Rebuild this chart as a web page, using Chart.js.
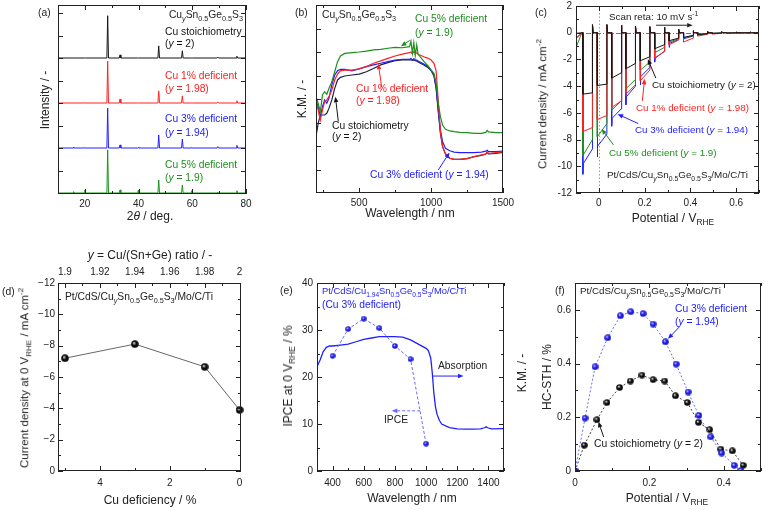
<!DOCTYPE html>
<html>
<head>
<meta charset="utf-8">
<script src="https://cdn.jsdelivr.net/npm/chart.js@4.4.1/dist/chart.umd.min.js"></script>
<style>
  body { margin: 0; background: #fff; }
  #fig { position: relative; width: 766px; height: 510px; overflow: hidden;
         font-family: "Liberation Sans", Arial, sans-serif; color: #222; }
  #fig canvas { position: absolute; }
  .t { position: absolute; white-space: nowrap; font-size: 10.3px; line-height: 1; }
  .sm { font-size: 9.8px; }
  .xs { font-size: 9.4px; }
  .l { transform: translateY(-50%); }
  .r { transform: translate(-100%, -50%); }
  .c { transform: translate(-50%, -50%); }
  .v { transform: translate(-50%, -50%) rotate(-90deg); }
  .ax { font-size: 12px; }
  .axs { font-size: 11.5px; }
  sub, sup { font-size: 70%; line-height: 0; }
</style>
</head>
<body>
<div id="fig"></div>
<script>
const BLACK = '#151515', RED = '#ff2020', BLUE = '#2020ff', GREEN = '#1d8f1d';

// (a) XRD patterns, intensity relative to one band
const xrdTheta = [10, 15.6, 15.8, 16.0, 19.8, 20.0, 20.2, 28.2, 28.5, 28.8, 32.8, 33.1, 33.4, 39.7, 39.9, 40.1,
                  47.2, 47.5, 47.8, 56.0, 56.3, 56.6, 59.6, 59.8, 60.0, 69.2, 69.5, 69.8, 76.3, 76.6, 76.9, 80];
const xrdBlack = [0, 0, 0, 0, 0, 0, 0, 0, 0.94, 0, 0, 0.07, 0, 0, 0, 0, 0, 0.27, 0, 0, 0.16, 0, 0, 0, 0, 0, 0.02, 0, 0, 0.04, 0, 0];
const xrdRed   = [0, 0, 0, 0, 0, 0.01, 0, 0, 0.93, 0, 0, 0.09, 0, 0, 0, 0, 0, 0.27, 0, 0, 0.16, 0, 0, 0, 0, 0, 0.02, 0, 0, 0.05, 0, 0];
const xrdBlue  = [0, 0, 0.02, 0, 0, 0.01, 0, 0, 0.89, 0, 0, 0.07, 0, 0, 0.01, 0, 0, 0.29, 0, 0, 0.20, 0, 0, 0.01, 0, 0, 0.03, 0, 0, 0.06, 0, 0];
const xrdGreen = [0, 0, 0.03, 0, 0, 0.06, 0, 0, 0.96, 0, 0, 0.07, 0, 0, 0.06, 0, 0, 0.29, 0, 0, 0.18, 0, 0, 0.05, 0, 0, 0.02, 0, 0, 0.05, 0, 0];
const xrdOffset = [3, 2, 1, 0];

// (b) K.M. spectra
const kmWl = [200, 215, 230, 245, 260, 275, 290, 310, 330, 350, 370, 400, 450, 500, 550, 600, 650, 700, 750, 800,
              850, 860, 870, 880, 890, 900, 910, 950, 980, 1000, 1020, 1035, 1050, 1065, 1080, 1100, 1130, 1160,
              1200, 1250, 1300, 1350, 1380, 1390, 1400, 1450, 1500];
const kmGreen = [4.1, 3.82, 3.46, 4.17, 4.31, 4.2, 4.45, 4.74, 5.16, 5.59, 5.83, 5.94, 5.97, 6.0, 6.04, 6.09, 6.11, 6.16, 6.2, 6.18,
                 6.23, 6.45, 5.95, 6.4, 5.85, 6.3, 5.9, 5.6, 5.4, 5.23, 5.09, 4.67, 3.82, 3.25, 2.89, 2.71, 2.64, 2.61,
                 2.58, 2.57, 2.54, 2.54, 2.58, 2.66, 2.6, 2.57, 2.57];
const kmRed = [3.96, 3.53, 3.1, 3.53, 3.89, 3.96, 4.1, 4.38, 4.81, 5.06, 5.2, 5.23, 5.23, 5.28, 5.38, 5.52, 5.62, 5.73, 5.83, 5.91,
               5.97, 6.0, 5.92, 6.02, 5.95, 5.96, 5.9, 5.8, 5.73, 5.66, 5.52, 5.2, 3.9, 2.6, 1.97, 1.66, 1.48, 1.43,
               1.43, 1.46, 1.55, 1.62, 1.66, 1.76, 1.68, 1.72, 1.76];
const kmBlue = [3.96, 3.67, 3.25, 3.67, 3.96, 3.82, 4.03, 4.6, 5.02, 5.2, 5.26, 5.26, 5.2, 5.28, 5.38, 5.45, 5.52, 5.59, 5.66, 5.69,
                5.69, 5.72, 5.66, 5.71, 5.67, 5.66, 5.62, 5.49, 5.38, 5.23, 5.02, 4.52, 3.53, 2.68, 2.18, 1.9, 1.8, 1.74,
                1.72, 1.72, 1.72, 1.74, 1.78, 1.82, 1.76, 1.76, 1.78];
const kmBlack = [2.4, 2.96, 3.32, 3.32, 3.32, 3.39, 3.6, 3.96, 4.45, 4.81, 4.92, 4.98, 5.02, 5.06, 5.16, 5.3, 5.45, 5.55, 5.63, 5.66,
                 5.66, 5.67, 5.64, 5.66, 5.63, 5.62, 5.57, 5.45, 5.33, 5.21, 4.98, 4.45, 3.46, 2.54, 1.97, 1.66, 1.48, 1.43,
                 1.43, 1.46, 1.55, 1.6, 1.66, 1.72, 1.66, 1.69, 1.73];

// (c) chopped-light current density, one entry per light pulse
const chopOn = [-0.07, -0.007, 0.056, 0.118, 0.181, 0.244, 0.307, 0.370, 0.432, 0.495, 0.558, 0.621, 0.684];
const chopLen = 0.042;
const offSpike = [0.6, 0.6, 0.55, 0.5, 0.45, 0.4, 0.25, 0.15, 0.1, 0.08, 0.06, 0.05, 0.03];
const jBlackOn  = [-4.6, -3.95, -3.4, -2.7, -2.1, -1.2, -0.6, -0.35, -0.15, -0.05, -0.02, -0.01, 0];
const jBlackOff = [-4.5, -3.85, -3.0, -2.3, -1.8, -0.9, -0.4, -0.2, -0.08, -0.02, -0.01, 0, 0];
const jRedOn    = [-7.4, -6.5, -5.6, -4.6, -3.6, -1.9, -0.9, -0.7, -0.25, -0.1, -0.05, -0.02, 0];
const jRedOff   = [-7.1, -6.2, -5.1, -3.9, -2.8, -1.4, -0.55, -0.4, -0.12, -0.05, -0.02, 0, 0];
const jBlueSpike = [-10.6, -9.3, -7.0, -5.4, -3.9, -2.2, -1.1, -0.5, -0.15, -0.08, -0.04, -0.02, 0];
const jBlueOn   = [-9.8, -8.5, -6.4, -4.8, -3.3, -1.9, -0.8, -0.45, -0.12, -0.05, -0.03, -0.01, 0];
const jBlueOff  = [-8.7, -7.6, -5.7, -4.0, -2.6, -1.4, -0.5, -0.25, -0.05, -0.02, 0, 0, 0];
const jGreenOn  = [-9.2, -7.8, -5.8, -4.2, -2.8, -1.5, -0.7, -0.4, -0.15, -0.05, -0.02, -0.01, 0];
const jGreenOff = [-8.0, -6.8, -5.1, -3.5, -2.2, -1.1, -0.45, -0.2, -0.08, -0.02, 0, 0, 0];
const jDarkStart = [-0.05, -0.45, -0.4, -1.1]; // black, red, blue, green at -0.1 V

// (d) current density at 0 V vs Cu deficiency
const cuDeficiency = [5, 3, 1, 0];
const j0V = [-7.2, -8.1, -6.65, -3.9];
const ratioTicks = [1.9, 1.92, 1.94, 1.96, 1.98, 2];

// (e) IPCE and absorption
const ipceWl = [400, 500, 600, 700, 800, 900, 1000];
const ipce = [24.5, 30.2, 32.4, 30.4, 26.6, 23.8, 5.8];
const absWl = [300, 320, 340, 360, 380, 400, 450, 500, 550, 600, 650, 700, 750, 800, 850, 900, 950, 1000, 1015, 1030,
               1040, 1050, 1060, 1070, 1085, 1100, 1150, 1200, 1250, 1300, 1350, 1375, 1385, 1395, 1420, 1500];
const absorption = [22.2, 23.6, 25.4, 26.3, 26.6, 26.6, 26.8, 27.0, 27.5, 28.0, 28.3, 28.6, 28.6, 28.6, 28.5, 27.9, 27.0, 26.1, 25.6, 24.0,
                    20.8, 16.5, 13.7, 12.1, 10.8, 10.0, 9.25, 8.97, 8.9, 8.9, 8.97, 9.2, 9.4, 9.2, 8.97, 9.0];

// (f) HC-STH
const sthVBlue = [0, 0.027, 0.054, 0.088, 0.122, 0.150, 0.183, 0.210, 0.243, 0.272, 0.304, 0.333, 0.365, 0.394, 0.428, 0.446];
const sthBlue  = [0, 0.197, 0.388, 0.496, 0.578, 0.593, 0.586, 0.547, 0.481, 0.398, 0.294, 0.207, 0.127, 0.067, 0.021, 0.002];
const sthVBlack = [0, 0.025, 0.059, 0.086, 0.120, 0.149, 0.180, 0.210, 0.241, 0.270, 0.302, 0.332, 0.362, 0.392, 0.423, 0.452];
const sthBlack  = [0, 0.096, 0.191, 0.255, 0.311, 0.335, 0.357, 0.340, 0.335, 0.280, 0.255, 0.181, 0.154, 0.081, 0.075, 0.021];

Chart.defaults.font.family = '"Liberation Sans", Arial, sans-serif';
Chart.defaults.font.size = 10;
Chart.defaults.color = '#222';
Chart.defaults.plugins.legend.display = false;
Chart.defaults.plugins.tooltip.enabled = false;
Chart.defaults.elements.point.radius = 0;
Chart.defaults.elements.line.borderWidth = 1;

const isIn = (v, arr) => arr.some(a => Math.abs(a - v) < 1e-9);

// frame with inward ticks on all four sides
const framePlugin = {
  id: 'frame',
  afterDatasetsDraw(chart) {
    const {ctx, chartArea: a} = chart;
    const scales = Object.values(chart.scales);
    const hasTop = scales.some(s => s.position === 'top');
    ctx.save();
    ctx.strokeStyle = '#222';
    ctx.lineWidth = 1;
    ctx.strokeRect(a.left + 0.5, a.top + 0.5, a.width - 1, a.height - 1);
    ctx.beginPath();
    const seg = (x1, y1, x2, y2) => { ctx.moveTo(x1, y1); ctx.lineTo(x2, y2); };
    scales.forEach(s => {
      s.ticks.forEach(t => {
        const len = t.label ? 5 : 3;
        const p = Math.round(s.getPixelForValue(t.value)) + 0.5;
        if (s.isHorizontal()) {
          if (s.position === 'bottom') {
            seg(p, a.bottom, p, a.bottom - len);
            if (!hasTop) seg(p, a.top, p, a.top + len);
          } else {
            seg(p, a.top, p, a.top + len);
          }
        } else {
          seg(a.left, p, a.left + len, p);
          seg(a.right, p, a.right - len, p);
        }
      });
    });
    ctx.stroke();
    ctx.restore();
  }
};

// annotation arrows given in data units
const arrowPlugin = {
  id: 'arrows',
  afterDatasetsDraw(chart, args, opts) {
    const list = (opts && opts.list) || [];
    const {ctx} = chart;
    const xs = chart.scales.x, ys = chart.scales.y;
    list.forEach(ar => {
      const x1 = xs.getPixelForValue(ar.from[0]), y1 = ys.getPixelForValue(ar.from[1]);
      const x2 = xs.getPixelForValue(ar.to[0]), y2 = ys.getPixelForValue(ar.to[1]);
      const ang = Math.atan2(y2 - y1, x2 - x1), h = 5.5, w = 2.3;
      const cos = Math.cos(ang), sin = Math.sin(ang);
      ctx.save();
      ctx.strokeStyle = ar.color;
      ctx.fillStyle = ar.color;
      ctx.lineWidth = 1;
      ctx.setLineDash(ar.dash || []);
      ctx.beginPath();
      ctx.moveTo(x1, y1);
      ctx.lineTo(x2 - h * 0.7 * cos, y2 - h * 0.7 * sin);
      ctx.stroke();
      ctx.setLineDash([]);
      ctx.beginPath();
      ctx.moveTo(x2, y2);
      ctx.lineTo(x2 - h * cos + w * sin, y2 - h * sin - w * cos);
      ctx.lineTo(x2 - h * cos - w * sin, y2 - h * sin + w * cos);
      ctx.closePath();
      ctx.fill();
      ctx.restore();
    });
  }
};

// reference lines for (c)
const refPlugin = {
  id: 'refLines',
  beforeDatasetsDraw(chart, args, opts) {
    if (!opts || !opts.on) return;
    const {ctx, chartArea: a} = chart;
    const y0 = Math.round(chart.scales.y.getPixelForValue(0)) + 0.5;
    const x0 = Math.round(chart.scales.x.getPixelForValue(0)) + 0.5;
    ctx.save();
    ctx.lineWidth = 1;
    ctx.strokeStyle = '#777';
    ctx.setLineDash([5, 2, 1, 2]);
    ctx.beginPath(); ctx.moveTo(a.left, y0); ctx.lineTo(a.right, y0); ctx.stroke();
    ctx.strokeStyle = '#9a9ab8';
    ctx.setLineDash([1.5, 2]);
    ctx.beginPath(); ctx.moveTo(x0, a.top); ctx.lineTo(x0, a.bottom); ctx.stroke();
    ctx.restore();
  }
};

Chart.register(framePlugin, arrowPlugin, refPlugin);

function scaleFrom(spec, size) {
  const all = spec.major.concat(spec.minor || []).sort((p, q) => p - q);
  return {
    type: 'linear', position: spec.pos, min: spec.min, max: spec.max, reverse: !!spec.reverse,
    grid: { display: false, drawTicks: false },
    border: { display: false },
    ticks: {
      display: !spec.hide, padding: spec.pad || 4, autoSkip: false, maxRotation: 0,
      font: { size: 10 }, color: '#222',
      callback: v => isIn(v, spec.major) ? (spec.fmt ? spec.fmt(v) : String(+v.toFixed(4))) : ''
    },
    afterBuildTicks: s => { s.ticks = all.map(v => ({ value: v })); },
    afterFit: s => {
      if (s.isHorizontal()) s.height = size; else s.width = size;
      s.paddingLeft = s.paddingRight = s.paddingTop = s.paddingBottom = 0;
    }
  };
}

const fig = document.getElementById('fig');

function makeChart(box, area, axes, datasets, plugins) {
  const cv = document.createElement('canvas');
  cv.width = box.w; cv.height = box.h;
  cv.style.left = box.x + 'px'; cv.style.top = box.y + 'px';
  fig.appendChild(cv);
  const hasTop = !!axes.x2;
  const scales = {
    x: scaleFrom(axes.x, box.y + box.h - area.B),
    y: scaleFrom(axes.y, area.L - box.x)
  };
  if (hasTop) scales.x2 = scaleFrom(axes.x2, area.T - box.y);
  return new Chart(cv, {
    type: 'line',
    data: { datasets },
    options: {
      responsive: false, animation: false, devicePixelRatio: 1,
      layout: { padding: { left: 0, bottom: 0, top: hasTop ? 0 : area.T - box.y, right: box.x + box.w - area.R } },
      scales,
      plugins: Object.assign({ legend: { display: false }, tooltip: { enabled: false } }, plugins || {})
    }
  });
}

function sphere(d, body, hi) {
  const c = document.createElement('canvas');
  c.width = c.height = d;
  const g = c.getContext('2d');
  const r = d / 2;
  const grad = g.createRadialGradient(r * 0.72, r * 0.68, 0, r, r, r);
  grad.addColorStop(0, hi);
  grad.addColorStop(0.5, body);
  grad.addColorStop(1, body);
  g.fillStyle = grad;
  g.beginPath(); g.arc(r, r, r - 0.2, 0, Math.PI * 2); g.fill();
  return c;
}

const pts = (xs, ys) => xs.map((x, i) => ({ x, y: ys[i] }));

// ---- (a) ----
const xrdSeries = [[xrdBlack, BLACK], [xrdRed, RED], [xrdBlue, BLUE], [xrdGreen, GREEN]];
makeChart({ x: 0, y: 0, w: 258, h: 232 }, { L: 58, T: 5, R: 246, B: 194 },
  {
    x: { pos: 'bottom', min: 10, max: 80, major: [20, 40, 60, 80], minor: [30, 50, 70] },
    y: { pos: 'left', min: -0.022, max: 4.178, major: [0.5, 1, 1.5, 2, 2.5, 3, 3.5, 4], hide: true }
  },
  xrdSeries.map(([vals, col], k) => ({
    data: xrdTheta.map((t, i) => ({ x: t, y: xrdOffset[k] + vals[i] })),
    borderColor: col, borderWidth: 1
  })));

// ---- (b) ----
makeChart({ x: 262, y: 0, w: 256, h: 232 }, { L: 316, T: 5, R: 503, B: 193 },
  {
    x: { pos: 'bottom', min: 200, max: 1500, major: [500, 1000, 1500], minor: [250, 750, 1250] },
    y: { pos: 'left', min: 0, max: 8, major: [1, 2, 3, 4, 5, 6, 7], hide: true }
  },
  [[kmGreen, GREEN], [kmRed, RED], [kmBlue, BLUE], [kmBlack, '#202040']].map(([v, col]) => ({
    data: pts(kmWl, v), borderColor: col, borderWidth: 1.2
  })),
  {
    arrows: { list: [
      { from: [855, 6.5], to: [790, 6.25], color: GREEN },
      { from: [657, 4.5], to: [633, 5.5], color: RED },
      { from: [355, 3.05], to: [335, 4.1], color: BLACK },
      { from: [1050, 0.98], to: [1128, 1.72], color: BLUE }
    ] }
  });

// ---- (c) ----
function chopped(dark0, on, off, spike) {
  const out = [{ x: -0.1, y: dark0 }, { x: chopOn[0] - 0.004, y: 0 }];
  chopOn.forEach((s, k) => {
    const e = s + chopLen;
    out.push({ x: s, y: 0 });
    if (spike) { out.push({ x: s, y: spike[k] }, { x: s + 0.002, y: on[k] }); }
    else out.push({ x: s, y: on[k] });
    out.push({ x: e, y: off[k] }, { x: e, y: offSpike[k] }, { x: e + 0.003, y: 0 });
  });
  return out;
}
makeChart({ x: 518, y: 0, w: 248, h: 232 }, { L: 576, T: 6, R: 759, B: 193 },
  {
    x: { pos: 'bottom', min: -0.1, max: 0.7, major: [0, 0.2, 0.4, 0.6], minor: [-0.1, 0.1, 0.3, 0.5, 0.7] },
    y: { pos: 'left', min: -12, max: 2, major: [2, 0, -2, -4, -6, -8, -10, -12], minor: [1, -1, -3, -5, -7, -9, -11] }
  },
  [
    { data: chopped(jDarkStart[0], jBlackOn, jBlackOff), borderColor: BLACK },
    { data: chopped(jDarkStart[1], jRedOn, jRedOff), borderColor: RED },
    { data: chopped(jDarkStart[3], jGreenOn, jGreenOff), borderColor: GREEN },
    { data: chopped(jDarkStart[2], jBlueOn, jBlueOff, jBlueSpike), borderColor: BLUE }
  ],
  {
    refLines: { on: true },
    arrows: { list: [
      { from: [0.25, 0.56], to: [0.41, 0.56], color: '#222' },
      { from: [0.249, -3.4], to: [0.214, -1.98], color: BLACK },
      { from: [0.19, -5.1], to: [0.2, -3.45], color: RED },
      { from: [0.172, -6.8], to: [0.082, -6.1], color: BLUE },
      { from: [0.064, -8.4], to: [0.012, -7.2], color: GREEN }
    ] }
  });

// ---- (d) ----
const minusFmt = v => v === 0 ? '0' : '\u2212' + Math.abs(v);
makeChart({ x: 0, y: 240, w: 258, h: 270 }, { L: 58, T: 283, R: 241, B: 471 },
  {
    x: { pos: 'bottom', min: -0.04, max: 5.2, reverse: true, major: [0, 2, 4], minor: [1, 3, 5], pad: 6 },
    x2: { pos: 'top', min: 1.896, max: 2.0008, major: ratioTicks, minor: [1.91, 1.93, 1.95, 1.97, 1.99], pad: 5 },
    y: { pos: 'left', min: -12, max: 0, reverse: true, major: [0, -2, -4, -6, -8, -10, -12],
         minor: [-1, -3, -5, -7, -9, -11], fmt: minusFmt, pad: 3 }
  },
  [{
    data: pts(cuDeficiency, j0V), borderColor: '#666', borderWidth: 1,
    pointStyle: sphere(8, '#0c0c0c', '#f2f2f2'), pointRadius: 4, clip: false
  }]);

// ---- (e) ----
makeChart({ x: 258, y: 240, w: 258, h: 270 }, { L: 317, T: 283, R: 504, B: 471 },
  {
    x: { pos: 'bottom', min: 300, max: 1500, major: [400, 600, 800, 1000, 1200, 1400],
         minor: [300, 500, 700, 900, 1100, 1300, 1500], pad: 6 },
    y: { pos: 'left', min: 0, max: 40, major: [0, 10, 20, 30, 40], minor: [5, 15, 25, 35] }
  },
  [
    { data: pts(ipceWl, ipce), borderColor: '#6a6aff', borderWidth: 1, borderDash: [3, 2],
      pointStyle: sphere(6, '#1a1ae0', '#dcdcff'), pointRadius: 3 },
    { data: pts(absWl, absorption), borderColor: BLUE, borderWidth: 1.3 }
  ],
  {
    arrows: { list: [
      { from: [1045, 20.2], to: [1240, 20.2], color: BLUE },
      { from: [962, 12.8], to: [780, 12.8], color: '#6a6aff', dash: [3, 2] }
    ] }
  });

// ---- (f) ----
makeChart({ x: 516, y: 240, w: 250, h: 270 }, { L: 575, T: 283, R: 762, B: 471 },
  {
    x: { pos: 'bottom', min: 0, max: 0.5, major: [0, 0.2, 0.4], minor: [0.1, 0.3, 0.5], pad: 6 },
    y: { pos: 'left', min: 0, max: 0.7, major: [0, 0.2, 0.4, 0.6], minor: [0.1, 0.3, 0.5, 0.7] }
  },
  [
    { data: pts(sthVBlue, sthBlue), borderColor: '#6a6aff', borderWidth: 1, borderDash: [2, 2],
      pointStyle: sphere(7, '#1a1ae0', '#dcdcff'), pointRadius: 3.5 },
    { data: pts(sthVBlack, sthBlack), borderColor: '#444', borderWidth: 1, borderDash: [2, 2],
      pointStyle: sphere(7, '#0c0c0c', '#eeeeee'), pointRadius: 3.5 }
  ],
  {
    arrows: { list: [
      { from: [0.28, 0.536], to: [0.25, 0.492], color: BLUE },
      { from: [0.077, 0.127], to: [0.063, 0.183], color: BLACK }
    ] }
  });

// ---- text ----
function label(x, y, html, cls, color) {
  const d = document.createElement('div');
  d.className = 't ' + cls;
  d.style.left = x + 'px';
  d.style.top = y + 'px';
  if (color) d.style.color = color;
  d.innerHTML = html;
  fig.appendChild(d);
}
const CSGS = 'Cu<sub><i>y</i></sub>Sn<sub>0.5</sub>Ge<sub>0.5</sub>S<sub>3</sub>';
const PT = 'Pt/CdS/' + CSGS + '/Mo/C/Ti';

// (a)
label(38, 13, '(a)', 'l');
label(243, 15, CSGS, 'r');
label(165, 32, 'Cu stoichiometry', 'l', BLACK);
label(165, 44, '(<i>y</i> = 2)', 'l', BLACK);
label(165, 76, 'Cu 1% deficient', 'l', RED);
label(165, 89, '(<i>y</i> = 1.98)', 'l', RED);
label(165, 119, 'Cu 3% deficient', 'l', BLUE);
label(165, 133, '(<i>y</i> = 1.94)', 'l', BLUE);
label(165, 165, 'Cu 5% deficient', 'l', GREEN);
label(165, 178, '(<i>y</i> = 1.9)', 'l', GREEN);
label(45, 100, 'Intensity / -', 'v ax');
label(150, 216, '2<i>θ</i> / deg.', 'c ax');
// (b)
label(295, 13, '(b)', 'l');
label(322, 15, CSGS, 'l');
label(415, 19, 'Cu 5% deficient', 'l', GREEN);
label(415, 33, '(<i>y</i> = 1.9)', 'l', GREEN);
label(356, 89, 'Cu 1% deficient', 'l', RED);
label(356, 101, '(<i>y</i> = 1.98)', 'l', RED);
label(332, 126, 'Cu stoichiometry', 'l', BLACK);
label(332, 137, '(<i>y</i> = 2)', 'l', BLACK);
label(370, 175, 'Cu 3% deficient (<i>y</i> = 1.94)', 'l', BLUE);
label(302, 99, 'K.M. / -', 'v ax');
label(410, 213, 'Wavelength / nm', 'c ax');
// (c)
label(535, 13, '(c)', 'l');
label(609, 17, 'Scan reta: 10 mV s<sup>-1</sup>', 'l sm');
label(652, 85, 'Cu stoichiometry (<i>y</i> = 2)', 'l sm', BLACK);
label(636, 108, 'Cu 1% deficient (<i>y</i> = 1.98)', 'l sm', RED);
label(635, 130, 'Cu 3% deficient (<i>y</i> = 1.94)', 'l sm', BLUE);
label(609, 153, 'Cu 5% deficient (<i>y</i> = 1.9)', 'l sm', GREEN);
label(607, 175, PT, 'l sm');
label(543, 104, 'Current density / mA cm<sup>-2</sup>', 'v axs');
label(673, 218, 'Potential / V<sub>RHE</sub>', 'c ax');
// (d)
label(2, 292, '(d)', 'l');
label(150, 255, '<i>y</i> = Cu/(Sn+Ge) ratio / -', 'c ax');
label(65, 297, PT, 'l');
label(25, 378, 'Current density at 0 V<sub>RHE</sub> / mA cm<sup>-2</sup>', 'v axs');
label(150, 500, 'Cu deficiency / %', 'c ax');
// (e)
label(280, 291, '(e)', 'l');
label(322, 291, 'Pt/CdS/Cu<sub>1.94</sub>Sn<sub>0.5</sub>Ge<sub>0.5</sub>S<sub>3</sub>/Mo/C/Ti', 'l xs', BLUE);
label(322, 305, '(Cu 3% deficient)', 'l', BLUE);
label(438, 366, 'Absorption', 'l');
label(396, 420, 'IPCE', 'c');
label(288, 376, 'IPCE at 0 V<sub>RHE</sub> / %', 'v ax');
label(522, 373, 'K.M. / -', 'v ax');
label(412, 498, 'Wavelength / nm', 'c ax');
// (f)
label(555, 291, '(f)', 'l');
label(580, 291, PT, 'l sm');
label(675, 309, 'Cu 3% deficient', 'l', BLUE);
label(675, 322, '(<i>y</i> = 1.94)', 'l', BLUE);
label(594, 444, 'Cu stoichiometry (<i>y</i> = 2)', 'l', BLACK);
label(547, 377, 'HC-STH / %', 'v ax');
label(667, 498, 'Potential / V<sub>RHE</sub>', 'c ax');
</script>
</body>
</html>
